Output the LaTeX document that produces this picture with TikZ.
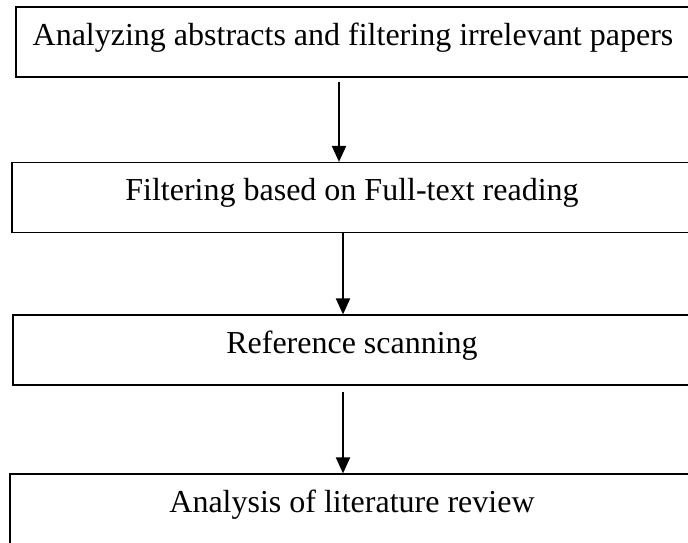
\documentclass[tikz,border=0pt]{standalone}
\usepackage{fontspec}
\setmainfont{Liberation Serif}
\usepackage{tikz}
\usetikzlibrary{arrows.meta,positioning,calc}

\begin{document}
\begin{tikzpicture}[
    x=1pt, y=-1pt,
    stage/.style={draw, rectangle, line width=1.2pt, minimum height=70pt, inner sep=0pt, align=center,
        text height=22pt, text depth=16pt, font=\fontsize{32}{38}\selectfont},
    arrow/.style={draw, line width=2pt, -{Triangle[length=16pt, width=14pt]}}
]
    \useasboundingbox (0,0) rectangle (688,542);
    \clip (0,0) rectangle (688,542);

    % Nodes
    \node[stage, minimum width=674pt] (abstracts) at (353,42) {Analyzing abstracts and filtering irrelevant papers};
    \node[stage, minimum width=680pt] (fulltext) at (352,197.5) {Filtering based on Full-text reading};
    \node[stage, minimum width=678pt] (refscan) at (352,350) {Reference scanning};
    \node[stage, minimum width=684pt] (analysis) at (352,509) {Analysis of literature review};

    % Connections
    \path[arrow] ([shift={(-14,4)}]abstracts.south) -- ([xshift=-13pt]fulltext.north);
    \path[arrow] ([xshift=-9pt]fulltext.south) -- ([xshift=-9pt]refscan.north);
    \path[arrow] ([shift={(-9,6)}]refscan.south) -- ([xshift=-9pt]analysis.north);

\end{tikzpicture}
\end{document}
